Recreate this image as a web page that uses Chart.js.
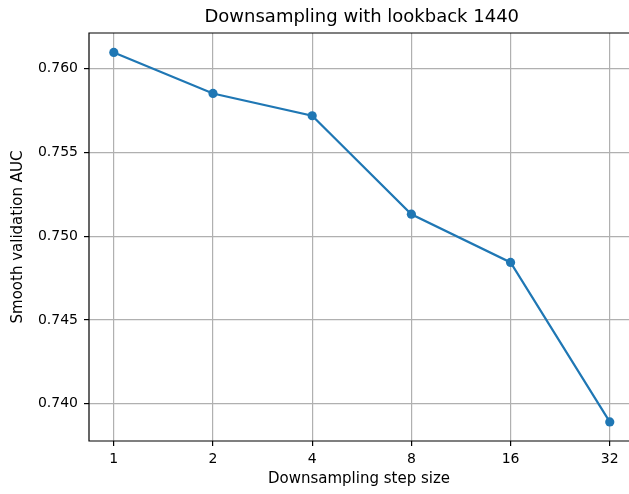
<!DOCTYPE html>
<html>
<head>
<meta charset="utf-8">
<script src="https://cdn.jsdelivr.net/npm/chart.js@4.4.1/dist/chart.umd.min.js"></script>
<style>
  html, body { margin: 0; padding: 0; background: #ffffff; }
  #wrap { width: 629px; height: 494px; }
</style>
</head>
<body>
<div id="wrap"><canvas id="chart" width="629" height="494"></canvas></div>
<script>
// Downsampling step sizes (shown as evenly spaced categories)
const stepSizes = ["1", "2", "4", "8", "16", "32"];
// Smooth validation AUC at each step size
const aucValues = [0.76097, 0.75852, 0.75719, 0.75131, 0.74843, 0.73891];
// Y-axis tick values
const yTicks = [0.740, 0.745, 0.750, 0.755, 0.760];

const TITLE = 'Downsampling with lookback 1440';
const FONT = "'DejaVu Sans', sans-serif";

// Black frame on the left, top and bottom of the plot area
const frame = {
  id: 'frame',
  afterDatasetsDraw(chart) {
    const { ctx, chartArea: a } = chart;
    ctx.save();
    ctx.strokeStyle = '#000000';
    ctx.lineWidth = 1.2;
    ctx.beginPath();
    ctx.moveTo(a.right + 2, a.top);
    ctx.lineTo(a.left, a.top);
    ctx.lineTo(a.left, a.bottom);
    ctx.lineTo(a.right + 2, a.bottom);
    ctx.stroke();
    ctx.restore();
  }
};

// Title centred over the x data span (including its right margin)
const axesTitle = {
  id: 'axesTitle',
  afterDraw(chart) {
    const { ctx } = chart;
    const xs = chart.scales.x;
    const cx = (xs.getPixelForValue(-0.25) + xs.getPixelForValue(5.25)) / 2;
    ctx.save();
    ctx.fillStyle = '#000000';
    ctx.font = '18px ' + FONT;
    ctx.textAlign = 'center';
    ctx.textBaseline = 'middle';
    ctx.fillText(TITLE, cx, 17);
    ctx.restore();
  }
};

new Chart(document.getElementById('chart'), {
  type: 'line',
  data: {
    datasets: [{
      data: aucValues.map((v, i) => ({ x: i, y: v })),
      borderColor: '#1f77b4',
      backgroundColor: '#1f77b4',
      borderWidth: 2.2,
      pointRadius: 4.6,
      pointHoverRadius: 4.6,
      pointBorderWidth: 0,
      tension: 0,
      clip: false
    }]
  },
  options: {
    responsive: false,
    animation: false,
    layout: { autoPadding: false, padding: { left: 0, right: 0, top: 33, bottom: 0 } },
    plugins: {
      legend: { display: false },
      tooltip: { enabled: false },
      title: { display: false }
    },
    scales: {
      x: {
        type: 'linear',
        min: -0.25,
        max: 5.194,
        afterBuildTicks(scale) {
          scale.ticks = stepSizes.map((_, i) => ({ value: i }));
        },
        afterFit(scale) {
          scale.height = 53;
          scale.paddingLeft = 0;
          scale.paddingRight = 0;
        },
        ticks: {
          color: '#000000',
          font: { family: FONT, size: 14 },
          padding: 5,
          maxRotation: 0,
          autoSkip: false,
          callback: (v) => stepSizes[v]
        },
        grid: { color: '#b0b0b0', lineWidth: 1.2, tickColor: '#000000', tickLength: 5 },
        border: { display: false },
        title: {
          display: true,
          text: 'Downsampling step size',
          color: '#000000',
          font: { family: FONT, size: 15 },
          padding: { top: 2, bottom: 6 }
        }
      },
      y: {
        min: 0.73777,
        max: 0.76213,
        afterBuildTicks(scale) {
          scale.ticks = yTicks.map(v => ({ value: v }));
        },
        afterFit(scale) {
          scale.width = 89;
          scale.paddingTop = 0;
          scale.paddingBottom = 0;
        },
        ticks: {
          color: '#000000',
          font: { family: FONT, size: 14 },
          padding: 6,
          autoSkip: false,
          callback: (v) => v.toFixed(3)
        },
        grid: { color: '#b0b0b0', lineWidth: 1.2, tickColor: '#000000', tickLength: 5 },
        border: { display: false },
        title: {
          display: true,
          text: 'Smooth validation AUC',
          color: '#000000',
          font: { family: FONT, size: 15 },
          padding: { top: 9, bottom: 4 }
        }
      }
    }
  },
  plugins: [frame, axesTitle]
});
</script>
</body>
</html>
